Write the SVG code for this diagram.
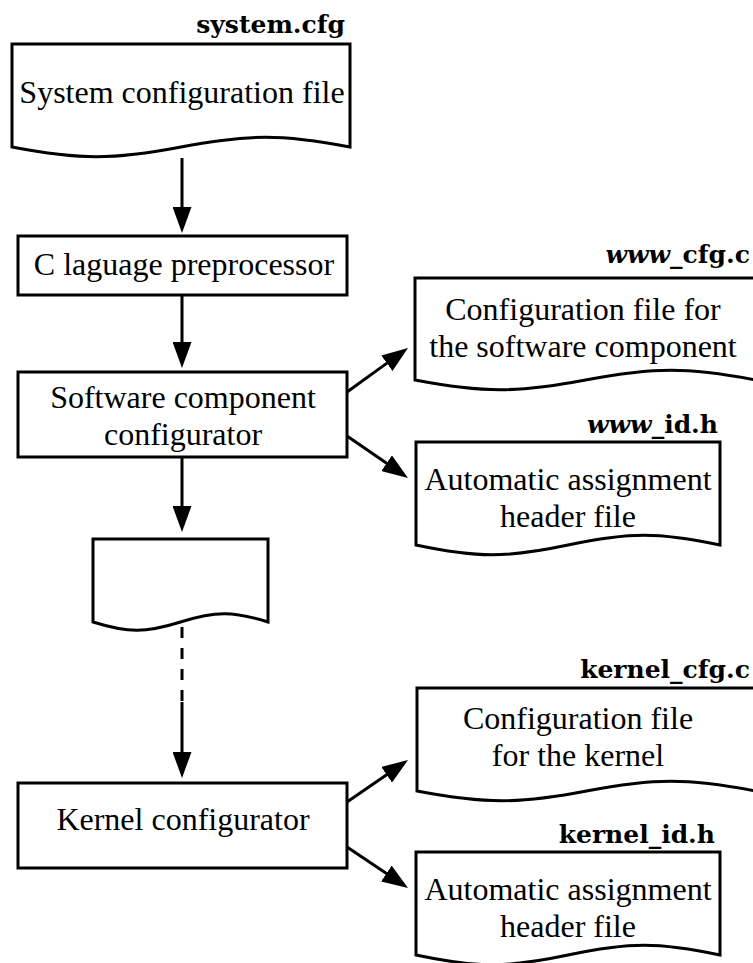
<svg xmlns="http://www.w3.org/2000/svg" width="753" height="963" viewBox="0 0 753 963">
  <style>
    .shape { fill: #ffffff; stroke: #000000; stroke-width: 3; stroke-linejoin: miter; }
    .body { font-family: "Liberation Serif", "Times New Roman", serif; font-size: 32px; fill: #000000; text-anchor: middle; }
    .fname { font-family: "DejaVu Serif", serif; font-weight: bold; font-size: 25px; fill: #000000; text-anchor: end; }
    .fname .it { font-style: italic; }
    .wire { fill: none; stroke: #000000; stroke-width: 3; }
    .dash { stroke-dasharray: 11 10; }
  </style>
  <defs>
    <marker id="head" viewBox="0 0 26 19" refX="1" refY="9.5" markerWidth="26" markerHeight="19" markerUnits="userSpaceOnUse" orient="auto">
      <path d="M0,0 L26,9.5 L0,19 Z" fill="#000000"/>
    </marker>
  </defs>

  <!-- input configuration file -->
  <g id="system-cfg">
    <path class="shape" d="M12,44 H350 V147 C282,134 249,134 181,147 C113,160 80,160 12,147 Z"/>
    <text class="fname" x="345" y="33">system.cfg</text>
    <text class="body" x="182" y="103">System configuration file</text>
  </g>

  <g id="preprocessor">
    <rect class="shape" x="18" y="236" width="329" height="59"/>
    <text class="body" x="184" y="275">C laguage preprocessor</text>
  </g>

  <g id="sw-configurator">
    <rect class="shape" x="18" y="372" width="329" height="85"/>
    <text class="body" x="183" y="408">Software component</text>
    <text class="body" x="183" y="445">configurator</text>
  </g>

  <g id="www-cfg">
    <path class="shape" d="M415,278 H756 V380 C688,367 654,367 585.5,380 C517,393 483,393 415,380 Z"/>
    <text class="fname" x="750" y="263"><tspan class="it">www</tspan>_cfg.c</text>
    <text class="body" x="583" y="320">Configuration file for</text>
    <text class="body" x="583" y="357">the software component</text>
  </g>

  <g id="www-id">
    <path class="shape" d="M416,442 H720 V545 C659,532 629,532 568,545 C507,558 477,558 416,545 Z"/>
    <text class="fname" x="718" y="433"><tspan class="it">www</tspan>_id.h</text>
    <text class="body" x="568" y="490">Automatic assignment</text>
    <text class="body" x="568" y="527">header file</text>
  </g>

  <g id="intermediate">
    <path class="shape" d="M93,539 H268 V622 C233,611 215.5,611 180.5,622 C145.5,633 128,633 93,622 Z"/>
  </g>

  <g id="kernel-configurator">
    <rect class="shape" x="18" y="783" width="329" height="85"/>
    <text class="body" x="183" y="830">Kernel configurator</text>
  </g>

  <g id="kernel-cfg">
    <path class="shape" d="M417,688 H756 V791 C688,778 654,778 586.5,791 C519,804 485,804 417,791 Z"/>
    <text class="fname" x="750" y="678">kernel_cfg.c</text>
    <text class="body" x="578" y="729">Configuration file</text>
    <text class="body" x="578" y="766">for the kernel</text>
  </g>

  <g id="kernel-id">
    <path class="shape" d="M416,852 H720 V955 C659,942 629,942 568,955 C507,968 477,968 416,955 Z"/>
    <text class="fname" x="715" y="843">kernel_id.h</text>
    <text class="body" x="568" y="900">Automatic assignment</text>
    <text class="body" x="568" y="937">header file</text>
  </g>

  <g id="connectors">
    <path class="wire" d="M182,158 V208" marker-end="url(#head)"/>
    <path class="wire" d="M182,295 V343" marker-end="url(#head)"/>
    <path class="wire" d="M182,457 V507" marker-end="url(#head)"/>
    <path class="wire dash" d="M182,627 V703"/>
    <path class="wire" d="M182,702 V753" marker-end="url(#head)"/>
    <path class="wire" d="M347,392 L387.7,362.6" marker-end="url(#head)"/>
    <path class="wire" d="M347,436 L387.4,463.8" marker-end="url(#head)"/>
    <path class="wire" d="M347,802 L387.4,774.2" marker-end="url(#head)"/>
    <path class="wire" d="M347,847 L387.25,874.05" marker-end="url(#head)"/>
  </g>
</svg>
